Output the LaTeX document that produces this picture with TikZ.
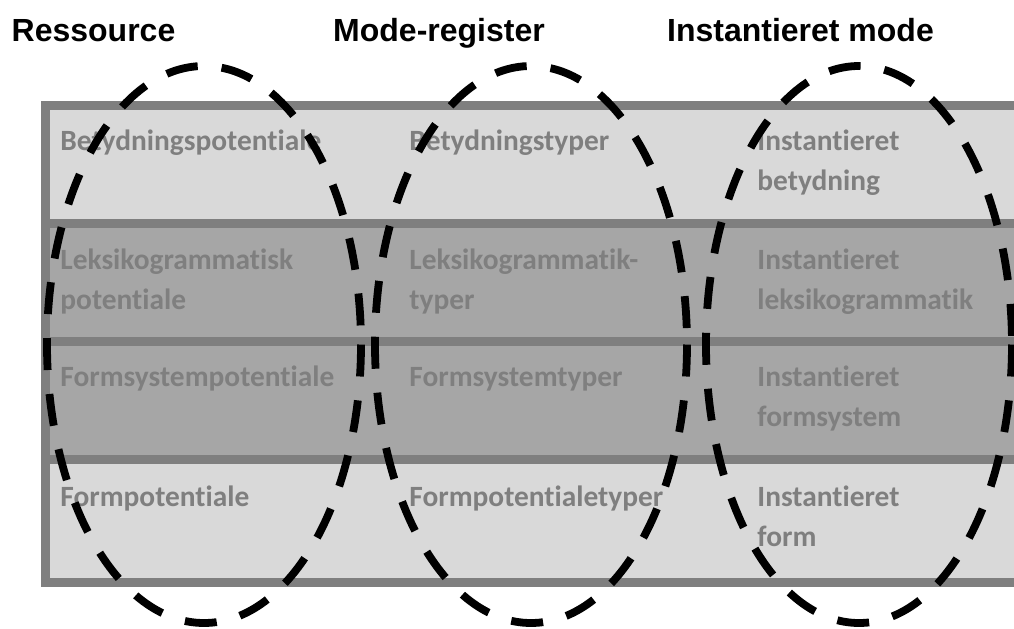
\documentclass[tikz,border=0pt]{standalone}
\usepackage{fontspec}
\setmainfont{Carlito}[Ligatures=CommonOff]
\newfontfamily\headfont{Liberation Sans}
\definecolor{rowlight}{HTML}{D9D9D9}
\definecolor{rowdark}{HTML}{A6A6A6}
\definecolor{rimgray}{HTML}{7F7F7F}
\tikzset{
  lightrow/.style={fill=rowlight, draw=rimgray, line width=4.5pt},
  darkrow/.style={fill=rowdark, draw=rimgray, line width=4.5pt},
  cell/.style={anchor=base west, inner sep=0pt, align=left, text=rimgray,
    font=\bfseries\fontsize{14.7}{20}\selectfont},
  head/.style={anchor=base, inner sep=0pt, font=\headfont\bfseries\fontsize{16}{19}\selectfont},
  ring/.style={draw=black, line width=3.9pt, dash pattern=on 16pt off 12pt}
}
\begin{document}
\begin{tikzpicture}[x=0.5pt,y=-0.5pt]
\useasboundingbox (0,0) rectangle (1014,628);
\clip (0,0) rectangle (1014,628);

% rows of the table
\draw[lightrow] (45.5,105.5) rectangle (1040,223.5);
\draw[darkrow] (45.5,223.5) rectangle (1040,341.5);
\draw[darkrow] (45.5,341.5) rectangle (1040,459);
\draw[lightrow] (45.5,459) rectangle (1040,582.5);

% column heads
\node[head] (reshead) at (93.5,41.5) {Ressource};
\node[head] (modhead) at (439,41.5) {Mode-register};
\node[head] (inshead) at (800.5,41.5) {Instantieret mode};

% cells (two-line cells sit on their last baseline)
\node[cell] (res1) at (60,150.7) {Betydningspotentiale};
\node[cell] (mod1) at (409,150.7) {Betydningstyper};
\node[cell] (ins1) at (757,190.7) {Instantieret\\betydning};
\node[cell] (res2) at (60,309) {Leksikogrammatisk\\potentiale};
\node[cell] (mod2) at (409,309) {Leksikogrammatik-\\typer};
\node[cell] (ins2) at (757,309) {Instantieret\\leksikogrammatik};
\node[cell] (res3) at (60,386.7) {Formsystempotentiale};
\node[cell] (mod3) at (409,386.7) {Formsystemtyper};
\node[cell] (ins3) at (757,426.7) {Instantieret\\formsystem};
\node[cell] (res4) at (60,506.7) {Formpotentiale};
\node[cell] (mod4) at (409,506.7) {Formpotentialetyper};
\node[cell] (ins4) at (757,546.7) {Instantieret\\form};

% dashed rings
\draw[ring] (204,344.5) ellipse (157 and 278.5);
\draw[ring] (531,344.5) ellipse (156 and 278.5);
\draw[ring] (859,344.5) ellipse (153 and 278.5);
\end{tikzpicture}
\end{document}
